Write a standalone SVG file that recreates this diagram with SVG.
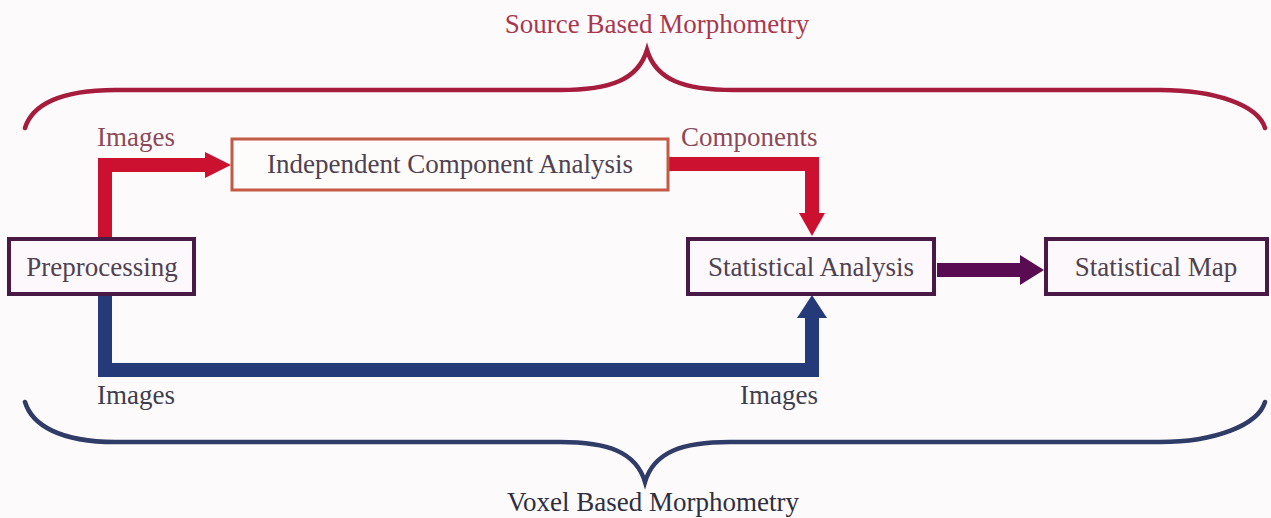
<svg xmlns="http://www.w3.org/2000/svg" width="1271" height="518" viewBox="0 0 1271 518">
<defs>
<style>
text{font-family:"Liberation Serif","Times New Roman",serif;font-size:27px}
.title-top{fill:#a8384e}
.title-bot{fill:#2e2e3e}
.lbl-top{fill:#8a4a58}
.lbl-bot{fill:#3e3e4c}
.ntext{fill:#4e4250;text-anchor:middle}
.box{fill:#fdf8fb;stroke:#4a1a46;stroke-width:4}
.box-ica{fill:#fefbfb;stroke:#c45a44;stroke-width:3}
.brace{fill:none;stroke-width:4.5;stroke-linecap:round}
.conn{fill:none;stroke-width:14;stroke-linejoin:miter}
</style>
</defs>
<rect width="1271" height="518" fill="#fdfafc"/>
<g id="braces">
<path class="brace" stroke="#a51c3c" d="M25,128 C32,105 60,90 115,90 L560,90 C610,90 638,80 647,50 C656,80 684,90 734,90 L1160,90 C1215,90 1258,105 1265,128"/>
<path class="brace" stroke="#2f3c68" d="M25,402 C32,425 60,442 115,442 L560,442 C608,442 636,452 645,482 C654,452 682,442 730,442 L1160,442 C1215,442 1258,425 1265,402"/>
</g>
<g id="connectors">
<path class="conn" stroke="#cc1030" d="M105,238 V165 H210"/>
<polygon fill="#cc1030" points="205,152 231,165 205,178"/>
<path class="conn" stroke="#cc1030" d="M669,164 H812 V218"/>
<polygon fill="#cc1030" points="799,213 825,213 812,236"/>
<path class="conn" stroke="#253a78" d="M105,295 V370 H812 V315"/>
<polygon fill="#253a78" points="797,318 827,318 812,295"/>
<path class="conn" stroke="#5a0c52" d="M937,270 H1024"/>
<polygon fill="#5a0c52" points="1020,255 1044,270 1020,285"/>
</g>
<g id="labels">
<text class="title-top" x="657" y="33" text-anchor="middle">Source Based Morphometry</text>
<text class="lbl-top" x="97" y="146">Images</text>
<text class="lbl-top" x="681" y="146">Components</text>
<text class="lbl-bot" x="97" y="404">Images</text>
<text class="lbl-bot" x="740" y="404">Images</text>
<text class="title-bot" x="653" y="511" text-anchor="middle">Voxel Based Morphometry</text>
</g>
<g id="node-ica">
<rect class="box-ica" x="232" y="139" width="436" height="51"/>
<text class="ntext" x="450" y="173">Independent Component Analysis</text>
</g>
<g id="node-preprocessing">
<rect class="box" x="9" y="239" width="185" height="55"/>
<text class="ntext" x="102" y="276">Preprocessing</text>
</g>
<g id="node-statistical-analysis">
<rect class="box" x="688" y="239" width="246" height="55"/>
<text class="ntext" x="811" y="276">Statistical Analysis</text>
</g>
<g id="node-statistical-map">
<rect class="box" x="1046" y="239" width="221" height="55"/>
<text class="ntext" x="1156" y="276">Statistical Map</text>
</g>
</svg>
